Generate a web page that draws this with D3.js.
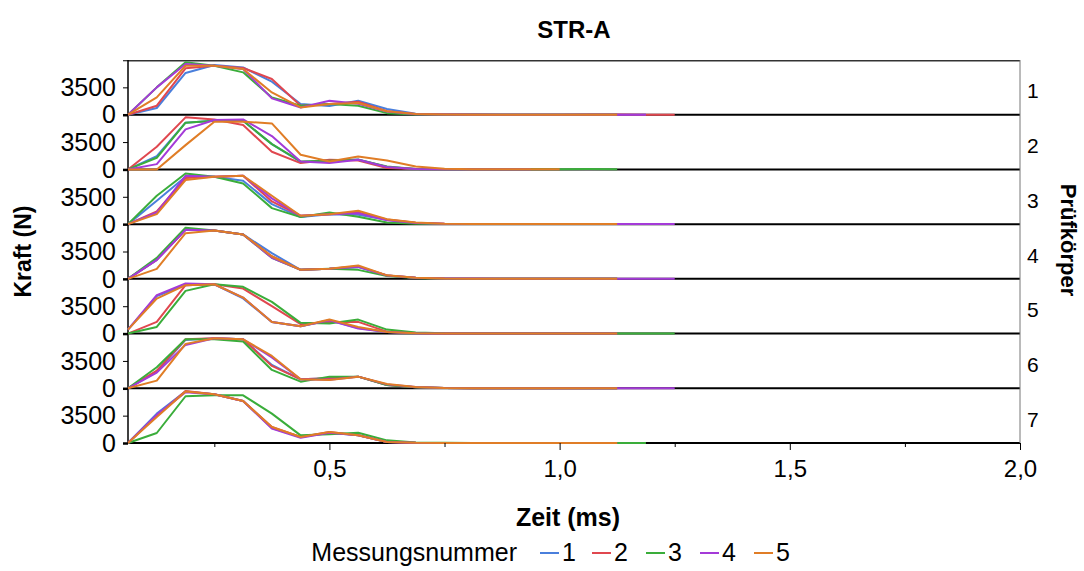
<!DOCTYPE html>
<html><head><meta charset="utf-8">
<script src="https://cdn.jsdelivr.net/npm/d3@7"></script>
<style>
html,body{margin:0;padding:0;background:#fff;}
svg text{font-family:"Liberation Sans",Arial,sans-serif;fill:#000;}
</style></head>
<body><svg id="c" width="1084" height="571"></svg>
<script>
// ---- data ----
const times = [0.0625,0.125,0.1875,0.25,0.3125,0.375,0.4375,0.5,0.5625,0.625,0.6875,0.75,0.8125,0.875,0.9375,1.0,1.0625,1.125,1.1875,1.25];
const specimens = ["1","2","3","4","5","6","7"];
const measurements = ["1","2","3","4","5"];
const colors = ["#4a7fdc","#e0474f","#3aad3a","#a43ad8","#e07d26"];
const xTicks = [0.5,1.0,1.5,2.0];
const xMinorTicks = [0.25,0.75,1.25,1.75];
const yTicks = [0,3500];

const specimen1 = [
 [0,860,5340,6360,6050,4220,1370,1110,1790,730,120,30,20,10,10,10,10,10,10],
 [0,1150,5930,6270,5980,4570,1150,1370,1660,450,100,30,20,10,10,10,20,20,10,10],
 [0,3500,6700,6270,5420,2210,1150,1370,1150,200,40,10,10,10,10,10,10,10],
 [0,3500,6490,6270,5850,2090,930,1790,1400,400,60,20,10,10,10,10,10,10,10],
 [0,2210,6270,6270,5850,2850,930,1370,1500,450,80,20,10,10,10,10,10,10]
];
const specimen2 = [
 [0,1710,5980,6230,6230,3240,960,1150,1280,300,60,20,10,10,10,10],
 [0,2900,6660,6400,5680,2260,810,1240,1150,170,40,10,10,10,10,10],
 [0,1490,5980,6230,6230,3240,1020,1110,1240,380,60,20,10,10,10,30,40,20],
 [0,680,5120,6320,6400,4270,1020,810,1240,300,60,10,10,10,10],
 [0,0,3110,6100,6100,5890,1880,1020,1660,1150,380,80,20,10,10,10]
];
const specimen3 = [
 [0,2990,6060,6060,5550,2560,900,1280,1200,550,150,30,20,10,10,10,10,10],
 [0,1620,5890,6060,6190,2900,1070,1280,1490,600,180,40,20,10,10,10,10,10],
 [0,3630,6490,6060,5210,2050,900,1490,940,210,60,20,10,10,10,10,10,10],
 [0,1490,6190,6060,6190,3300,1070,1280,1400,500,160,40,20,10,10,10,10,10,10,10],
 [0,1280,5640,6060,6190,3630,1070,1280,1710,640,200,40,20,10,10,10,10,10]
];
const specimen4 = [
 [0,2430,6270,6190,5680,3290,1150,1280,1500,430,130,30,20,10,10,10,10,10],
 [0,2430,6270,6190,5680,2900,1150,1280,1600,430,130,30,20,10,10,10,10,10],
 [0,2690,6530,6190,5680,2690,1150,1280,1150,350,100,20,10,10,10,10,10,10],
 [0,2430,6270,6190,5680,2690,1150,1280,1550,430,130,30,40,20,20,20,20,20,20,20],
 [0,1280,5850,6190,5680,2860,1150,1280,1710,450,130,30,20,10,10,10,10,10]
];
const specimen5 = [
 [500,4800,6190,6310,4500,1490,940,1700,700,210,50,20,10,10,10,10,10,10],
 [0,1490,6190,6310,5760,3500,1200,1490,1490,250,60,20,10,10,10,10,10,10],
 [0,850,5460,6310,5980,4060,1370,1280,1790,510,130,30,20,10,10,10,10,10,10,10],
 [510,4910,6400,6310,4610,1490,940,1700,640,210,50,20,10,10,10,10,10,10],
 [510,4480,6190,6310,4610,1490,940,1790,850,210,50,20,10,10,10,10,10,10]
];
const specimen6 = [
 [0,2130,6190,6400,6270,2990,1150,1280,1490,430,130,30,20,10,10,10,10,10],
 [0,2260,6270,6400,6270,2860,1150,1280,1490,430,130,30,20,10,10,10,10,10],
 [0,2690,6270,6270,5980,2350,850,1490,1490,430,130,30,20,10,10,10,10,10],
 [0,2000,5550,6400,6270,3960,1150,1100,1490,500,150,40,20,20,20,20,20,20,20,20],
 [0,980,5680,6400,6270,4140,1150,1070,1490,555,150,40,20,10,10,10,10,10]
];
const specimen7 = [
 [0,3760,6600,6230,5380,1920,770,1320,980,130,20,10,10,10,10,10,10,10],
 [0,3500,6660,6230,5380,2050,770,1410,980,130,20,10,10,10,10,10,10,10],
 [0,1280,5980,6100,6100,3760,980,1110,1320,340,60,20,10,10,10,10,10,10,10],
 [0,3600,6490,6230,5380,1840,680,1320,980,130,20,10,10,10,10,10,10,10],
 [0,3330,6600,6230,5380,2050,770,1410,980,130,20,10,10,10,10,10,10,10]
];
const panels = [specimen1,specimen2,specimen3,specimen4,specimen5,specimen6,specimen7];

// ---- layout ----
const L = 128, R = 1020, T = 60, B = 443;
const ph = (B - T) / specimens.length;
const svg = d3.select("#c");

const x = d3.scaleLinear().domain([0.0625, 2.0]).range([L, R]);
const fmtX = d => d3.format(".1f")(d).replace(".", ",");
const fmtY = d3.format("d");

svg.append("text").attr("x", (L+R)/2).attr("y", 38).attr("text-anchor","middle")
  .style("font-size","24px").style("font-weight","bold").text("STR-A");

const yScales = panels.map((s,i) => d3.scaleLinear().domain([0,7000]).range([T+(i+1)*ph, T+i*ph]));

// frame lines first
svg.append("line").attr("x1",L).attr("x2",R).attr("y1",T+0.75).attr("y2",T+0.75).attr("stroke","#333").attr("stroke-width",1.5);
svg.append("line").attr("x1",L-5).attr("x2",L).attr("y1",T+0.75).attr("y2",T+0.75).attr("stroke","#000").attr("stroke-width",1);
yScales.forEach(y => {
  svg.append("line").attr("x1",L).attr("x2",R).attr("y1",y(0)).attr("y2",y(0))
    .attr("stroke","#000").attr("stroke-width",2);
});
svg.append("line").attr("x1",L).attr("x2",L).attr("y1",T).attr("y2",B).attr("stroke","#000").attr("stroke-width",1.5);
svg.append("line").attr("x1",R).attr("x2",R).attr("y1",T).attr("y2",B).attr("stroke","#777").attr("stroke-width",1);

panels.forEach((series, i) => {
  const y = yScales[i];
  const y0 = T + i*ph;
  const g = svg.append("g");
  const line = d3.line().x((d,j)=>x(times[j])).y(d=>y(d));
  series.forEach((s, m) => {
    g.append("path").datum(s).attr("d", line).attr("fill","none")
      .attr("stroke", colors[m]).attr("stroke-width", 2).attr("stroke-linejoin","round");
  });
  const ax = d3.axisLeft(y).tickValues(yTicks).tickFormat(fmtY).tickSize(5).tickPadding(7);
  const ag = svg.append("g").attr("transform",`translate(${L},0)`).call(ax);
  ag.select(".domain").remove();
  ag.selectAll(".tick line").attr("stroke","#000").attr("stroke-width", d => d===0 ? 2.5 : 1);
  ag.selectAll(".tick text").style("font-size","25px").attr("dy","0.33em");
  svg.append("text").attr("x", R+7).attr("y", y0+ph/2+11)
    .style("font-size","21px").text(specimens[i]);
});

// x axis
const xa = d3.axisBottom(x).tickValues(xTicks).tickFormat(fmtX).tickSize(7).tickPadding(10);
const xg = svg.append("g").attr("transform",`translate(0,${B})`).call(xa);
xg.select(".domain").remove();
xg.selectAll(".tick line").attr("stroke","#000");
xg.selectAll(".tick text").style("font-size","24px");
const xm = d3.axisBottom(x).tickValues(xMinorTicks).tickFormat("").tickSize(4);
const xmg = svg.append("g").attr("transform",`translate(0,${B})`).call(xm);
xmg.select(".domain").remove();

svg.append("text").attr("x",568).attr("y",526).attr("text-anchor","middle")
  .style("font-size","25px").style("font-weight","bold").text("Zeit (ms)");
svg.append("text").attr("transform",`translate(31,${(T+B)/2}) rotate(-90)`).attr("text-anchor","middle")
  .style("font-size","23px").style("font-weight","bold").text("Kraft (N)");
svg.append("text").attr("transform",`translate(1061,240) rotate(90)`).attr("text-anchor","middle")
  .style("font-size","22px").style("font-weight","bold").text("Prüfkörper");

// legend
const leg = svg.append("g").attr("transform","translate(0,561)");
leg.append("text").attr("x",517).attr("y",0).attr("text-anchor","end").style("font-size","25px").text("Messungsnummer");
const lx = [540, 592, 646, 700, 754];
measurements.forEach((m,k) => {
  leg.append("line").attr("x1",lx[k]).attr("x2",lx[k]+19).attr("y1",-8).attr("y2",-8)
    .attr("stroke",colors[k]).attr("stroke-width",2);
  leg.append("text").attr("x",lx[k]+22).attr("y",0).style("font-size","25px").text(m);
});
</script></body></html>
